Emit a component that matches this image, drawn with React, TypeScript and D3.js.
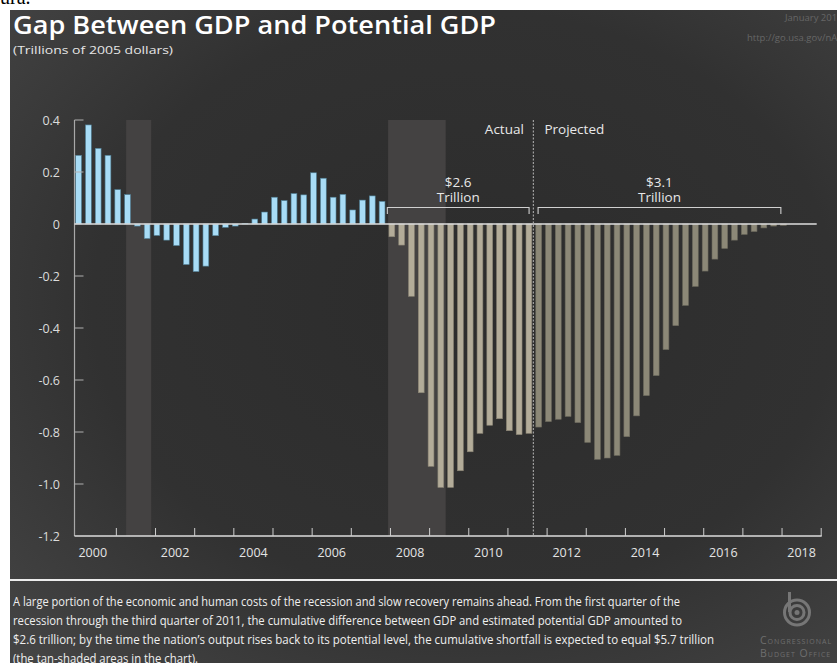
import React from "react";
import * as d3 from "d3";

// ---------- data ----------
const START_YEAR = 2000; // first quarter = 2000Q1
// Output gap, trillions of 2005 dollars, quarterly
const gapBeforeRecession: number[] = [
  0.264, 0.381, 0.291, 0.264, 0.132, 0.113, -0.008, -0.056,
  -0.044, -0.062, -0.083, -0.156, -0.183, -0.162, -0.045, -0.013,
  -0.008, 0.002, 0.019, 0.046, 0.103, 0.09, 0.117, 0.112,
  0.197, 0.176, 0.103, 0.114, 0.054, 0.092, 0.108, 0.087,
]; // 2000Q1-2007Q4
const gapActualShortfall: number[] = [
  -0.049, -0.081, -0.278, -0.649, -0.932, -1.013, -1.013, -0.949,
  -0.876, -0.805, -0.774, -0.749, -0.795, -0.81, -0.805,
]; // 2008Q1-2011Q3
const gapProjected: number[] = [
  -0.781, -0.76, -0.751, -0.74, -0.764, -0.84, -0.905, -0.9,
  -0.89, -0.818, -0.738, -0.66, -0.583, -0.483, -0.391, -0.313,
  -0.24, -0.181, -0.135, -0.094, -0.062, -0.04, -0.029, -0.015,
  -0.008, -0.005,
]; // 2011Q4-2018Q1

const yTicks = [0.4, 0.2, 0, -0.2, -0.4, -0.6, -0.8, -1.0, -1.2];
const yTickLabels = ["0.4", "0.2", "0", "-0.2", "-0.4", "-0.6", "-0.8", "-1.0", "-1.2"];
const xLabelYears = [2000, 2002, 2004, 2006, 2008, 2010, 2012, 2014, 2016, 2018];
const xTickYears = d3.range(2001, 2020);
const recessions: [number, number][] = [
  [2001.25, 2001.89],
  [2007.94, 2009.41],
];
const actualProjectedSplit = 2011.65;
const brackets = [
  { from: 2007.92, to: 2011.54, amount: "$2.6", unit: "Trillion" },
  { from: 2011.77, to: 2017.97, amount: "$3.1", unit: "Trillion" },
];
const title = "Gap Between GDP and Potential GDP";
const subtitle = "(Trillions of 2005 dollars)";
const footerLines = [
  "A large portion of the economic and human costs of the recession and slow recovery remains ahead. From the first quarter of the",
  "recession through the third quarter of 2011, the cumulative difference between GDP and estimated potential GDP amounted to",
  "$2.6 trillion; by the time the nation\u2019s output rises back to its potential level, the cumulative shortfall is expected to equal $5.7 trillion",
  "(the tan-shaded areas in the chart).",
];

const FONT = "'Open Sans', 'Noto Sans', sans-serif";

export default function App() {
  const W = 837;
  const H = 663;
  const x = d3.scaleLinear().domain([2000, 2019]).range([77.2, 821.2]);
  const y = d3.scaleLinear().domain([-1.2, 0.4]).range([536, 120]);
  const axisLeft = 74.5;
  const axisRight = 821.7;
  const barW = 5.8;

  const bars = [
    ...gapBeforeRecession.map((v) => ({ v, kind: "pre" })),
    ...gapActualShortfall.map((v) => ({ v, kind: "actual" })),
    ...gapProjected.map((v) => ({ v, kind: "proj" })),
  ].map((d, i) => ({ ...d, t: START_YEAR + i / 4 }));

  const fillFor = (k: string) =>
    k === "pre" ? "#a8dcf6" : k === "actual" ? "#b3ac99" : "#8c8877";
  const strokeFor = (k: string) =>
    k === "pre" ? "#4f7f95" : k === "actual" ? "#8a8474" : "#6d6a5e";

  return (
    <div style={{ position: "absolute", left: 0, top: 0 }}>
      <svg width={W} height={H} style={{ display: "block", background: "#fff" }}>
        <defs>
          <radialGradient id="bg" cx="55%" cy="45%" r="75%">
            <stop offset="0%" stopColor="#2c2c2c" />
            <stop offset="60%" stopColor="#313131" />
            <stop offset="100%" stopColor="#444444" />
          </radialGradient>
        </defs>
        <text x={0} y={4} fontFamily="'Liberation Serif', serif" fontSize={20} fill="#000">
          ura.
        </text>
        <rect x={10} y={10} width={W - 10} height={H - 10} fill="url(#bg)" />

        {/* title */}
        <text x={13} y={34} fontFamily={FONT} fontWeight={600} fontSize={26} fill="#fff"
          textLength={483} lengthAdjust="spacingAndGlyphs">
          {title}
        </text>
        <text x={13} y={54} fontFamily={FONT} fontSize={11.5} fill="#e6e6e6"
          textLength={160} lengthAdjust="spacingAndGlyphs">
          {subtitle}
        </text>
        <text x={785} y={21} fontFamily={FONT} fontSize={9.5} fill="#666">January 2012</text>
        <text x={747} y={41} fontFamily={FONT} fontSize={9.5} fill="#666">http://go.usa.gov/nAx</text>

        {/* recession shading */}
        {recessions.map(([a, b], i) => (
          <rect key={i} x={x(a)} y={y(0.4)} width={x(b) - x(a)} height={y(-1.2) - y(0.4)}
            fill="#444242" />
        ))}

        {/* bars */}
        {bars.map((d, i) => {
          const y0 = y(0);
          const y1 = y(d.v);
          return (
            <rect key={i} x={x(d.t) - 1.5} y={Math.min(y0, y1)} width={barW}
              height={Math.max(0.5, Math.abs(y1 - y0))} fill={fillFor(d.kind)}
              stroke={strokeFor(d.kind)} strokeWidth={0.6} />
          );
        })}

        {/* axes */}
        <line x1={axisLeft} x2={axisLeft} y1={y(0.4)} y2={y(-1.2)} stroke="#a8a8a8" strokeWidth={1.2} />
        {yTicks.filter((t) => t !== 0 && t !== -1.2).map((t) => (
          <line key={t} x1={axisLeft} x2={axisLeft + 9} y1={y(t)} y2={y(t)} stroke="#b0b0b0" strokeWidth={1} />
        ))}
        {yTicks.map((t, i) => (
          <text key={t} x={60} y={y(t) + 4.5} textAnchor="end" fontFamily={FONT} fontSize={12.5} fill="#dcdcdc">
            {yTickLabels[i]}
          </text>
        ))}
        <line x1={axisLeft} x2={axisRight} y1={y(-1.2)} y2={y(-1.2)} stroke="#dcdcdc" strokeWidth={1.3} />
        {xTickYears.map((yr) => (
          <line key={yr} x1={x(yr)} x2={x(yr)} y1={y(-1.2)} y2={y(-1.2) - 8} stroke="#cfcfcf" strokeWidth={1} />
        ))}
        {xLabelYears.map((yr) => (
          <text key={yr} x={x(yr + 0.5) - (yr === 2000 ? 4 : 0)} y={556.5} textAnchor="middle"
            fontFamily={FONT} fontSize={12.5} fill="#e4e4e4">
            {yr}
          </text>
        ))}
        <line x1={axisLeft} x2={816.7} y1={y(0)} y2={y(0)} stroke="#dedede" strokeWidth={1.3} />

        {/* actual / projected split */}
        <line x1={x(actualProjectedSplit)} x2={x(actualProjectedSplit)} y1={y(0.4)} y2={y(-1.2)}
          stroke="#a0a0a0" strokeWidth={1.2} strokeDasharray="2,1.5" />
        <text x={x(actualProjectedSplit) - 9.5} y={134} textAnchor="end" fontFamily={FONT} fontSize={13.5} fill="#e8e8e8">
          Actual
        </text>
        <text x={x(actualProjectedSplit) + 11} y={134} fontFamily={FONT} fontSize={13.5} fill="#e8e8e8">
          Projected
        </text>

        {/* brackets */}
        {brackets.map((b, i) => {
          const x0 = x(b.from);
          const x1 = x(b.to);
          const cx = (x0 + x1) / 2;
          return (
            <g key={i}>
              <path d={`M${x0},214 V207.5 H${x1} V214`} fill="none" stroke="#d0d0d0" strokeWidth={1.1} />
              <text x={cx} y={186.5} textAnchor="middle" fontFamily={FONT} fontSize={13.5} fill="#e8e8e8">
                {b.amount}
              </text>
              <text x={cx} y={202} textAnchor="middle" fontFamily={FONT} fontSize={13.5} fill="#e8e8e8">
                {b.unit}
              </text>
            </g>
          );
        })}

        {/* footer */}
        <line x1={10} x2={W} y1={580} y2={580} stroke="#ececec" strokeWidth={2} />
        {footerLines.map((l, i) => {
          const lens = [667, 669, 701, 185];
          return (
            <text key={i} x={13} y={606 + i * 18.9} fontFamily={FONT} fontSize={12.3} fill="#efefef"
              textLength={lens[i]} lengthAdjust="spacingAndGlyphs">
              {l}
            </text>
          );
        })}

        {/* CBO logo */}
        <g stroke="#767676" fill="none">
          <line x1={789.5} x2={789.5} y1={592} y2={612} strokeWidth={3} />
          <circle cx={797} cy={612.5} r={12.5} strokeWidth={3} />
          <circle cx={797} cy={612.5} r={7} strokeWidth={3} />
          <circle cx={797} cy={612.5} r={2.5} fill="#767676" strokeWidth={0} />
        </g>
        <text x={760} y={644} fontFamily={FONT} fontSize={10.5} fill="#6e6e6e" letterSpacing={1}
          style={{ fontVariant: "small-caps" }}>
          Congressional
        </text>
        <text x={760} y={656.5} fontFamily={FONT} fontSize={10.5} fill="#6e6e6e" letterSpacing={1}
          style={{ fontVariant: "small-caps" }}>
          Budget Office
        </text>
      </svg>
    </div>
  );
}
